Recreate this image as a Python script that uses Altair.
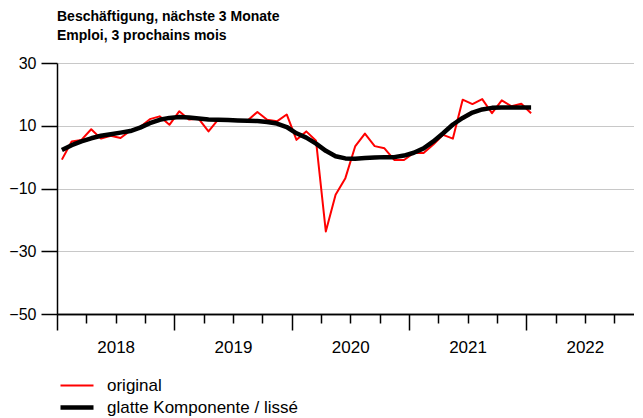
import altair as alt
import pandas as pd

# ---- data ----
months = [f"{y}-{m:02d}" for y in range(2018, 2022) for m in range(1, 13)] + ["2022-01"]

original = [
    -0.8, 5.0, 5.5, 8.9, 5.9, 6.8, 6.1, 8.4, 9.6, 12.1, 13.0, 10.3,
    14.6, 12.0, 12.2, 8.2, 12.0, 11.9, 11.6, 11.7, 14.4, 11.9, 11.4, 13.6,
    5.5, 8.2, 5.2, -23.7, -12.0, -6.7, 3.4, 7.5, 3.5, 2.8, -0.9, -0.9,
    1.3, 1.3, 4.0, 7.1, 5.9, 18.3, 16.9, 18.5, 14.0, 18.1, 16.2, 17.0,
    14.0,
]

smooth = [
    2.3, 3.8, 5.0, 6.0, 6.8, 7.3, 7.8, 8.3, 9.4, 10.8, 11.9, 12.5,
    12.8, 12.6, 12.3, 12.0, 11.9, 11.8, 11.7, 11.6, 11.5, 11.2, 10.7, 9.6,
    7.6, 6.2, 4.3, 2.0, 0.3, -0.4, -0.5, -0.3, -0.1, 0.0, 0.0, 0.5,
    1.4, 2.8, 5.0, 7.6, 10.4, 12.5, 14.2, 15.2, 15.7, 15.8, 15.8, 15.8,
    15.8,
]

series_names = ["original", "glatte Komponente / lissé"]
series_colors = ["#ff0000", "#000000"]
series_widths = [2, 4.5]

title_lines = ["Beschäftigung, nächste 3 Monate", "Emploi, 3 prochains mois"]
y_ticks = [-50, -30, -10, 10, 30]
year_ticks = [2018, 2019, 2020, 2021, 2022]
quarter_ticks = [y + q for y in range(2018, 2023) for q in (0.25, 0.5, 0.75)]
# visible time window: the reference's frame is cut at the page edge shortly before 2023
x_window = [2018, 2022.919]


def year_fraction(label):
    y, m = label.split("-")
    return int(y) + (int(m) - 0.5) / 12


rows = []
for m, o, s in zip(months, original, smooth):
    t = year_fraction(m)
    rows.append({"t": t, "value": o, "series": series_names[0]})
    rows.append({"t": t, "value": s, "series": series_names[1]})
df = pd.DataFrame(rows)

FONT = "Liberation Sans"

x_scale = alt.Scale(domain=x_window, nice=False, zero=False)

y_enc = alt.Y(
    "value:Q",
    scale=alt.Scale(domain=[-50, 30], nice=False, zero=False),
    axis=alt.Axis(
        values=y_ticks,
        title=None,
        tickSize=16,
        labelPadding=5,
        grid=True,
        gridColor="#c8c8c8",
        gridWidth=1.2,
        domainColor="black",
        domainWidth=1.5,
        tickColor="black",
        tickWidth=1.5,
        labelFont=FONT,
        labelFontSize=16,
        labelColor="black",
    ),
)

legend = alt.Legend(
    title=None,
    orient="none",
    legendX=1,
    legendY=314,
    symbolType="stroke",
    symbolSize=1089,
    labelFont=FONT,
    labelFontSize=17,
    labelColor="black",
    labelOffset=11,
    labelLimit=0,
    clipHeight=17,
    rowPadding=4,
)

color_enc = alt.Color(
    "series:N",
    scale=alt.Scale(domain=series_names, range=series_colors),
    legend=legend,
)
width_enc = alt.StrokeWidth(
    "series:N",
    scale=alt.Scale(domain=series_names, range=series_widths),
    legend=legend,
)

base = alt.Chart(df)

orig_layer = base.transform_filter(
    alt.datum.series == series_names[0]
).mark_line(strokeJoin="round").encode(
    x=alt.X(
        "t:Q",
        scale=x_scale,
        axis=alt.Axis(
            orient="bottom",
            values=quarter_ticks,
            title=None,
            tickSize=9,
            tickWidth=1.5,
            tickColor="black",
            domainColor="black",
            domainWidth=1.5,
            grid=False,
            labelExpr="datum.value % 1 == 0.5 ? toString(floor(datum.value)) : ''",
            labelOverlap=False,
            labelFlush=False,
            labelPadding=16,
            labelFont=FONT,
            labelFontSize=17,
            labelColor="black",
        ),
    ),
    y=y_enc,
    color=color_enc,
    strokeWidth=width_enc,
)

smooth_layer = base.transform_filter(
    alt.datum.series == series_names[1]
).mark_line(strokeJoin="round").encode(
    x=alt.X(
        "t:Q",
        scale=x_scale,
        axis=alt.Axis(
            orient="bottom",
            values=year_ticks,
            title=None,
            tickSize=16,
            tickWidth=1.5,
            tickColor="black",
            domainColor="black",
            domainWidth=1.5,
            grid=False,
            labels=False,
        ),
    ),
    y=y_enc,
    color=color_enc,
    strokeWidth=width_enc,
)

chart = alt.layer(orig_layer, smooth_layer).resolve_axis(
    x="independent"
).properties(
    width=577,
    height=251,
    padding={"left": 0, "top": 2, "right": 0, "bottom": 0},
    title=alt.TitleParams(
        text=title_lines,
        anchor="start",
        frame="group",
        font=FONT,
        fontSize=14,
        fontWeight="bold",
        color="black",
        lineHeight=19,
        offset=12,
    ),
).configure_view(stroke=None)

chart.save("out.html", embed_options={"renderer": "svg", "actions": False})
